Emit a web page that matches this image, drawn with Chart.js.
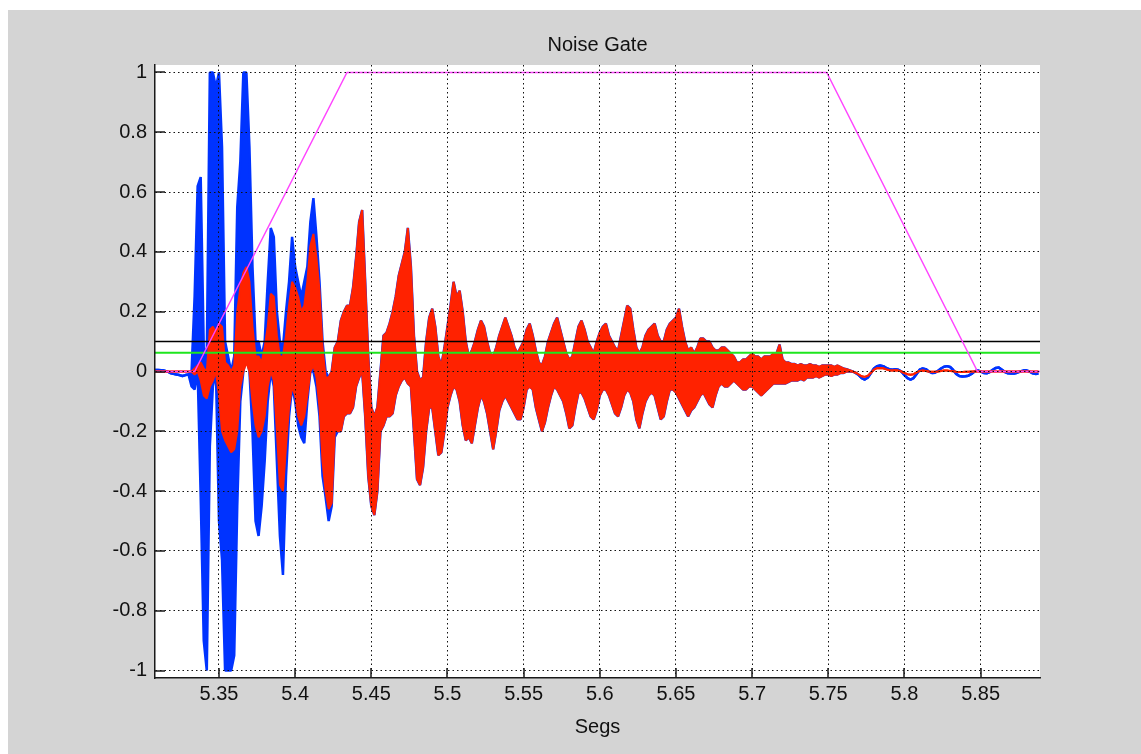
<!DOCTYPE html>
<html>
<head>
<meta charset="utf-8">
<title>Noise Gate</title>
<script src="https://cdn.jsdelivr.net/npm/chart.js@4.4.1/dist/chart.umd.min.js"></script>
<style>
	html, body { margin: 0; background: #fff; }
	.figure { position: absolute; left: 8px; top: 10px; width: 1133px; height: 744px; background: #d4d4d4; }
	canvas { display: block; }
</style>
</head>
<body>
<div class="figure"><canvas id="gate" width="1133" height="744"></canvas></div>
<script>
// signal envelopes, one sample every 2 ms: top = crest, bottom = trough
const step = 0.002;
const headStart = 5.308;
const bodyStart = 5.436;
const tailStart = 5.766;

// attack: input (blue) and gated output (red) differ while the gate opens
const headBlueTop = [
	0.005, 0.005, 0.004, 0.003, 0, -0.005, -0.008, -0.01, -0.012, -0.015,
	-0.012, -0.01, 0, 0.25, 0.62, 0.65, 0.08, 0.05, 1, 1,
	0.95, 1, 0.75, 0.1, 0.05, 0, 0.05, 0.55, 0.7, 1,
	1, 0.75, 0.35, 0.1, 0.1, 0.05, 0.1, 0.3, 0.48, 0.45,
	0.2, 0.1, 0.08, 0.2, 0.3, 0.45, 0.35, 0.3, 0.25, 0.3,
	0.35, 0.5, 0.58, 0.45, 0.3, 0.1, 0, -0.02, 0, 0.08,
	0.1, 0.17, 0.2, 0.22
];
const headBlueBottom = [
	0.005, 0.005, 0.004, 0.003, 0, -0.005, -0.008, -0.01, -0.012, -0.015,
	-0.012, -0.01, -0.05, -0.06, 0, -0.42, -0.9, -1, -0.25, -0.05,
	0, -0.5, -0.63, -1, -1, -1, -0.95, -0.45, -0.1, 0,
	0.05, 0, -0.2, -0.5, -0.55, -0.45, -0.3, -0.1, 0, -0.05,
	-0.3, -0.55, -0.68, -0.35, -0.15, -0.05, -0.1, -0.18, -0.22, -0.24,
	-0.1, 0, 0, -0.05, -0.15, -0.35, -0.42, -0.5, -0.45, -0.22,
	-0.2, -0.2, -0.15, -0.14
];
const headRedTop = [
	0, 0, 0, 0, 0, 0, 0, 0, 0, 0,
	0, 0, 0, 0.01, 0.02, 0.03, 0.01, 0, 0.14, 0.15,
	0.13, 0.16, 0.15, 0.03, 0.02, 0, 0.02, 0.2, 0.28, 0.33,
	0.35, 0.3, 0.15, 0.05, 0.05, 0.03, 0.08, 0.15, 0.26, 0.25,
	0.12, 0.05, 0.05, 0.12, 0.22, 0.3, 0.28, 0.25, 0.2, 0.22,
	0.3, 0.42, 0.46, 0.38, 0.27, 0.08, -0.02, -0.02, 0, 0.08,
	0.1, 0.17, 0.2, 0.22
];
const headRedBottom = [
	0, 0, 0, 0, 0, 0, 0, 0, 0, 0,
	0, 0, 0, -0.01, 0, -0.03, -0.08, -0.09, -0.05, -0.03,
	0, -0.08, -0.2, -0.23, -0.25, -0.27, -0.26, -0.2, -0.05, 0,
	0.03, 0, -0.1, -0.18, -0.22, -0.2, -0.15, -0.05, 0, -0.03,
	-0.2, -0.38, -0.4, -0.25, -0.12, -0.05, -0.08, -0.15, -0.18, -0.15,
	-0.08, 0, 0.02, -0.02, -0.12, -0.3, -0.4, -0.46, -0.44, -0.2,
	-0.2, -0.2, -0.15, -0.14
];

// gate fully open: output equals input
const bodyTop = [
	0.22, 0.28, 0.38, 0.5, 0.54, 0.3, 0.05, -0.12, -0.15, -0.12,
	0, 0.12, 0.13, 0.16, 0.2, 0.25, 0.32, 0.36, 0.4, 0.48,
	0.35, 0.12, 0, -0.03, -0.02, 0.1, 0.18, 0.21, 0.15, 0.05,
	0.02, 0.08, 0.15, 0.22, 0.3, 0.25, 0.27, 0.2, 0.1, 0.05,
	0.07, 0.1, 0.14, 0.17, 0.15, 0.1, 0.06, 0.05, 0.08, 0.12,
	0.15, 0.18, 0.15, 0.12, 0.08, 0.06, 0.08, 0.1, 0.14, 0.16,
	0.12, 0.07, 0.03, 0.02, 0.05, 0.1, 0.13, 0.16, 0.18, 0.14,
	0.1, 0.06, 0.04, 0.05, 0.1, 0.15, 0.17, 0.14, 0.1, 0.08,
	0.06, 0.1, 0.13, 0.15, 0.16, 0.12, 0.1, 0.08, 0.07, 0.12,
	0.17, 0.22, 0.21, 0.14, 0.08, 0.06, 0.08, 0.12, 0.14, 0.15,
	0.16, 0.12, 0.1, 0.1, 0.14, 0.16, 0.17, 0.18, 0.21, 0.15,
	0.1, 0.07, 0.08, 0.06, 0.08, 0.11, 0.11, 0.1, 0.1, 0.08,
	0.07, 0.07, 0.08, 0.08, 0.07, 0.06, 0.05, 0.03, 0.03, 0.04,
	0.04, 0.05, 0.06, 0.05, 0.05, 0.04, 0.05, 0.05, 0.05, 0.06,
	0.06, 0.09, 0.04, 0.03, 0.03, 0.025, 0.025, 0.02, 0.025, 0.02,
	0.02, 0.025, 0.02, 0.02, 0.015, 0.02, 0.02, 0.02, 0.02, 0.015,
	0.02, 0.015, 0.01, 0.008, 0.004
];
const bodyBottom = [
	-0.14, -0.12, -0.05, -0.02, 0, -0.15, -0.35, -0.45, -0.48, -0.4,
	-0.2, -0.18, -0.15, -0.15, -0.14, -0.08, -0.05, -0.03, -0.02, -0.04,
	-0.05, -0.2, -0.36, -0.38, -0.32, -0.2, -0.12, -0.12, -0.2, -0.28,
	-0.27, -0.2, -0.12, -0.08, -0.05, -0.06, -0.1, -0.18, -0.23, -0.22,
	-0.24, -0.18, -0.12, -0.08, -0.1, -0.14, -0.2, -0.26, -0.2, -0.13,
	-0.1, -0.08, -0.1, -0.12, -0.14, -0.16, -0.16, -0.12, -0.06, -0.05,
	-0.06, -0.12, -0.16, -0.2, -0.17, -0.12, -0.08, -0.05, -0.06, -0.08,
	-0.1, -0.14, -0.19, -0.18, -0.12, -0.07, -0.07, -0.09, -0.12, -0.15,
	-0.16, -0.13, -0.08, -0.06, -0.06, -0.08, -0.11, -0.14, -0.15, -0.12,
	-0.08, -0.06, -0.07, -0.1, -0.16, -0.19, -0.14, -0.1, -0.08, -0.07,
	-0.08, -0.12, -0.16, -0.15, -0.1, -0.06, -0.06, -0.07, -0.09, -0.11,
	-0.13, -0.15, -0.13, -0.12, -0.1, -0.08, -0.07, -0.09, -0.11, -0.12,
	-0.08, -0.05, -0.04, -0.05, -0.05, -0.04, -0.03, -0.04, -0.05, -0.06,
	-0.06, -0.05, -0.05, -0.06, -0.07, -0.08, -0.07, -0.06, -0.05, -0.04,
	-0.04, -0.04, -0.04, -0.04, -0.035, -0.03, -0.03, -0.03, -0.025, -0.03,
	-0.02, -0.02, -0.02, -0.015, -0.02, -0.015, -0.01, -0.01, -0.015, -0.01,
	-0.01, -0.005, -0.005, 0, 0
];

// release and after: low ripple, output fades to zero
const tailBlue = [
	0, -0.005, -0.012, -0.022, -0.027, -0.02, -0.005, 0.01, 0.018, 0.02,
	0.018, 0.012, 0.008, 0.006, 0.008, 0.006, 0, -0.012, -0.022, -0.027,
	-0.022, -0.008, 0.006, 0.01, 0.008, 0, -0.005, -0.004, 0.002, 0.01,
	0.016, 0.018, 0.015, 0.005, -0.008, -0.015, -0.017, -0.016, -0.014, -0.008,
	0, 0.004, 0, -0.005, -0.006, -0.002, 0.006, 0.012, 0.013, 0.006,
	-0.002, -0.006, -0.007, -0.007, -0.004, 0, 0.003, 0.004, 0, -0.006,
	-0.008, -0.007
];
const tailRed = [
	0, -0.004, -0.01, -0.016, -0.018, -0.014, -0.004, 0.006, 0.011, 0.012,
	0.011, 0.007, 0.004, 0.003, 0.004, 0.003, 0, -0.005, -0.009, -0.011,
	-0.009, -0.003, 0.002, 0.003, 0.002, 0, -0.001, -0.001, 0, 0.002,
	0.003, 0.003, 0.002, 0.001, -0.001, -0.002, -0.002, -0.001, -0.001, 0,
	0, 0, 0, 0, 0, 0, 0, 0, 0, 0,
	0, 0, 0, 0, 0, 0, 0, 0, 0, 0,
	0, 0
];

// gate gain and detector thresholds
const gateTimes = [5.308, 5.334, 5.434, 5.749, 5.848, 5.889];
const gateLevels = [0, 0, 1, 1, 0, 0];
const openLevel = 0.1;
const closeLevel = 0.063;

const xRange = [5.308, 5.889];
const yRange = [-1.025, 1.025];
const xTicks = [5.35, 5.4, 5.45, 5.5, 5.55, 5.6, 5.65, 5.7, 5.75, 5.8, 5.85];
const xTickLabels = ['5.35', '5.4', '5.45', '5.5', '5.55', '5.6', '5.65', '5.7', '5.75', '5.8', '5.85'];
const yTicks = [-1, -0.8, -0.6, -0.4, -0.2, 0, 0.2, 0.4, 0.6, 0.8, 1];
const yTickLabels = ['-1', '-0.8', '-0.6', '-0.4', '-0.2', '0', '0.2', '0.4', '0.6', '0.8', '1'];

// one envelope edge as points along the time axis
function edge(parts) {
	const pts = [];
	parts.forEach(([start, values]) => {
		values.forEach((y, i) => pts.push({ x: start + i * step, y }));
	});
	return pts;
}

const blueTop = edge([[headStart, headBlueTop], [bodyStart, bodyTop], [tailStart, tailBlue]]);
const blueBottom = edge([[headStart, headBlueBottom], [bodyStart, bodyBottom], [tailStart, tailBlue]]);
const redTop = edge([[headStart, headRedTop], [bodyStart, bodyTop], [tailStart, tailRed]]);
const redBottom = edge([[headStart, headRedBottom], [bodyStart, bodyBottom], [tailStart, tailRed]]);
const level = y => xRange.map(x => ({ x, y }));

const plotFrame = {
	id: 'plotFrame',
	beforeDraw(chart) {
		const { ctx, chartArea: a } = chart;
		ctx.save();
		ctx.fillStyle = '#fff';
		ctx.fillRect(a.left, a.top, a.right - a.left, a.bottom - a.top);
		ctx.restore();
	},
	// tick marks point into the axes
	afterDraw(chart) {
		const { ctx, chartArea: a, scales } = chart;
		ctx.save();
		ctx.strokeStyle = '#1a1a1a';
		ctx.lineWidth = 1.5;
		ctx.beginPath();
		scales.x.ticks.forEach(t => {
			const px = Math.round(scales.x.getPixelForValue(t.value));
			ctx.moveTo(px, a.bottom);
			ctx.lineTo(px, a.bottom - 10);
		});
		scales.y.ticks.forEach(t => {
			const py = Math.round(scales.y.getPixelForValue(t.value));
			ctx.moveTo(a.left, py);
			ctx.lineTo(a.left + 10, py);
		});
		ctx.stroke();
		ctx.restore();
	},
};

Chart.defaults.font.family = "'Liberation Sans', Arial, Helvetica, sans-serif";
Chart.defaults.font.size = 20;
Chart.defaults.color = '#111';

const grid = { color: '#111', lineWidth: 1, drawTicks: false, z: 1 };
const border = { display: true, color: '#1a1a1a', width: 1.5, dash: [1.5, 3], z: 1 };

const red = '#ff2200';
const blue = '#0033ff';

new Chart(document.getElementById('gate'), {
	type: 'line',
	data: {
		datasets: [
			{ label: 'gate', data: gateTimes.map((x, i) => ({ x, y: gateLevels[i] })), borderColor: '#ff44ff', borderWidth: 1.5, order: 1 },
			{ label: 'close', data: level(closeLevel), borderColor: '#1ee61e', borderWidth: 2, order: 2 },
			{ label: 'open', data: level(openLevel), borderColor: '#000', borderWidth: 1.5, order: 3 },
			{ label: 'output', data: redTop, borderColor: red, backgroundColor: red, borderWidth: 2, fill: '+1', order: 4 },
			{ label: 'output low', data: redBottom, borderColor: red, borderWidth: 2, order: 5 },
			{ label: 'input', data: blueTop, borderColor: blue, backgroundColor: blue, borderWidth: 2.5, fill: '+1', order: 6 },
			{ label: 'input low', data: blueBottom, borderColor: blue, borderWidth: 2.5, order: 7 },
		],
	},
	options: {
		responsive: false,
		animation: false,
		devicePixelRatio: 1,
		events: [],
		layout: { padding: { top: 0, right: 101, bottom: 0, left: 0 } },
		elements: {
			point: { radius: 0 },
			line: { tension: 0, fill: false, borderJoinStyle: 'bevel' },
		},
		plugins: {
			legend: { display: false },
			tooltip: { enabled: false },
			title: {
				display: true,
				text: 'Noise Gate',
				fullSize: false,
				font: { size: 20, weight: 'normal' },
				color: '#111',
				padding: { top: 23, bottom: 8 },
			},
		},
		scales: {
			x: {
				type: 'linear',
				min: xRange[0],
				max: xRange[1],
				afterBuildTicks: s => { s.ticks = xTicks.map(value => ({ value })); },
				afterFit: s => { s.height = 76; },
				ticks: { callback: (v, i) => xTickLabels[i], padding: 4, autoSkip: false, maxRotation: 0 },
				grid,
				border,
				title: { display: true, text: 'Segs', padding: { top: 0, bottom: 15 } },
			},
			y: {
				type: 'linear',
				min: yRange[0],
				max: yRange[1],
				afterBuildTicks: s => { s.ticks = yTicks.map(value => ({ value })); },
				afterFit: s => { s.width = 147; },
				ticks: { callback: (v, i) => yTickLabels[i], padding: 8 },
				grid,
				border,
			},
		},
	},
	plugins: [plotFrame],
});
</script>
</body>
</html>
